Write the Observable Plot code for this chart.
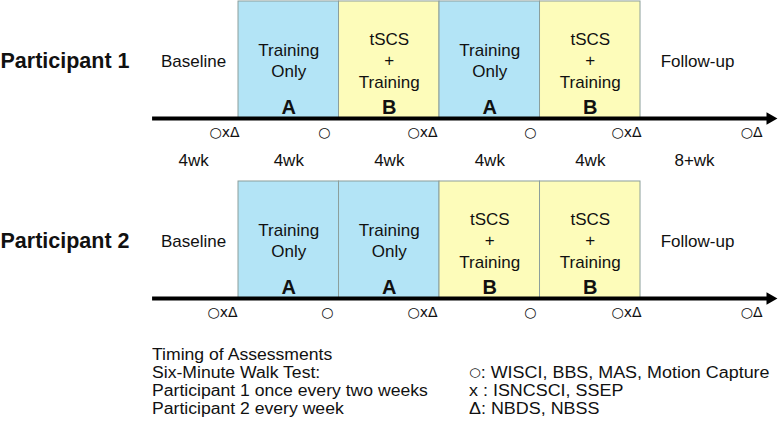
<!DOCTYPE html>
<html>
<head>
<meta charset="utf-8">
<script src="https://cdn.jsdelivr.net/npm/d3@7"></script>
<script src="https://cdn.jsdelivr.net/npm/@observablehq/plot@0.6"></script>
<style>
  body { margin: 0; background: #fff; font-family: "Liberation Sans", Arial, sans-serif; color: #111; }
  #wrap { width: 779px; }
  #caption { position: relative; height: 84px; font-size: 16px; line-height: 18px; }
  #caption .left { position: absolute; left: 152px; top: 0; white-space: nowrap; transform: scaleX(1.1); transform-origin: 0 0; }
  #caption .right { position: absolute; left: 469px; top: 18px; white-space: nowrap; transform: scaleX(1.12); transform-origin: 0 0; }
  #caption div div { height: 18px; }
  .sym { font-family: "DejaVu Sans", sans-serif; font-size: 12px; position: relative; top: -2px; }
</style>
</head>
<body>
<div id="wrap"></div>
<div id="caption">
  <div class="left">
    <div>Timing of Assessments</div>
    <div>Six-Minute Walk Test:</div>
    <div>Participant 1 once every two weeks</div>
    <div>Participant 2 every week</div>
  </div>
  <div class="right">
    <div><span class="sym">○</span>: WISCI, BBS, MAS, Motion Capture</div>
    <div>x : ISNCSCI, SSEP</div>
    <div>Δ: NBDS, NBSS</div>
  </div>
</div>
<script>
// ---- data (weeks on the study timeline) ----
const participants = ["Participant 1", "Participant 2"];
const phaseSequences = [["A", "B", "A", "B"], ["A", "A", "B", "B"]];
const phaseStarts = [0, 4, 8, 12];
const phaseEnds = [4, 8, 12, 16];
const phaseCodes = ["A", "B"];
const phaseTexts = ["Training\nOnly", "tSCS\n+\nTraining"];
const timelineStart = -3.42;
const timelineTip = 21.45;
const sideLabels = ["Baseline", "Follow-up"];
const sideLabelWeeks = [-1.79, 18.27];
const durationLabels = ["4wk", "4wk", "4wk", "4wk", "4wk", "8+wk"];
const durationWeeks = [-1.79, 2, 6, 10, 14, 18.15];
const assessmentLabels = ["○xΔ", "○", "○xΔ", "○", "○xΔ", "○Δ"];
const assessmentWeeks = [
  [0.04, 3.66, 7.92, 11.86, 16.04, 20.86],
  [-0.04, 3.78, 7.92, 11.86, 16.04, 20.86]
];

// ---- layout levels (y units: timeline = 0, box top = 1) ----
const LV = { phase: 0.505, side: 0.487, letter: 0.094, marks: -0.12, dur: -0.36 };
const FONT = '"Liberation Sans", Arial, sans-serif';

function panel(p, height, yMin, showDurations) {
  const phases = phaseSequences[p].map((c, i) => ({
    code: c, start: phaseStarts[i], end: phaseEnds[i],
    mid: (phaseStarts[i] + phaseEnds[i]) / 2,
    text: phaseTexts[phaseCodes.indexOf(c)]
  }));
  const sides = sideLabels.map((s, i) => ({ s, w: sideLabelWeeks[i] }));
  const marks = assessmentLabels.map((s, i) => ({ s, w: assessmentWeeks[p][i] }));
  const durs = durationLabels.map((s, i) => ({ s, w: durationWeeks[i] }));
  const tipCenter = timelineTip - 0.29;
  return Plot.plot({
    width: 779, height,
    margin: 0,
    style: { fontFamily: FONT, background: "white", overflow: "visible" },
    x: { domain: [-9.473, 21.532], axis: null },
    y: { domain: [yMin, 1.0085], axis: null },
    color: { domain: phaseCodes, range: ["#b3e4f6", "#fdfcba"] },
    marks: [
      Plot.rectY(phases, { x1: "start", x2: "end", y1: 0, y2: 1, fill: "code", stroke: "#8c9f9c", strokeWidth: 1 }),
      Plot.ruleY([0], { x1: timelineStart, x2: tipCenter, stroke: "#000", strokeWidth: 4 }),
      Plot.dot([tipCenter], { x: d => d, y: 0, symbol: "triangle", r: 4.7, rotate: 90, fill: "#000", stroke: null }),
      Plot.text(phases, { x: "mid", y: LV.phase, text: "text", fontSize: 17, lineHeight: 1.27, fill: "#111" }),
      Plot.text(phases, { x: "mid", y: LV.letter, text: "code", fontSize: 20, fontWeight: "bold", fill: "#111" }),
      Plot.text(sides, { x: "w", y: LV.side, text: "s", fontSize: 17, fill: "#111" }),
      Plot.text([participants[p]], { frameAnchor: "left", dx: 0, y: LV.side, text: d => d, fontSize: 21.5, fontWeight: "bold", textAnchor: "start", fill: "#111" }),
      Plot.text(marks, { x: "w", y: LV.marks, text: "s", fontSize: 14, fontFamily: '"DejaVu Sans", sans-serif', textAnchor: "end", fill: "#111" }),
      showDurations ? Plot.text(durs, { x: "w", y: LV.dur, text: "s", fontSize: 17, fill: "#111" }) : null
    ]
  });
}

const wrap = document.getElementById("wrap");
wrap.appendChild(panel(0, 180, -0.53, true));
wrap.appendChild(panel(1, 166, -0.41, false));
for (const svg of wrap.querySelectorAll("svg")) svg.style.display = "block";
</script>
</body>
</html>
